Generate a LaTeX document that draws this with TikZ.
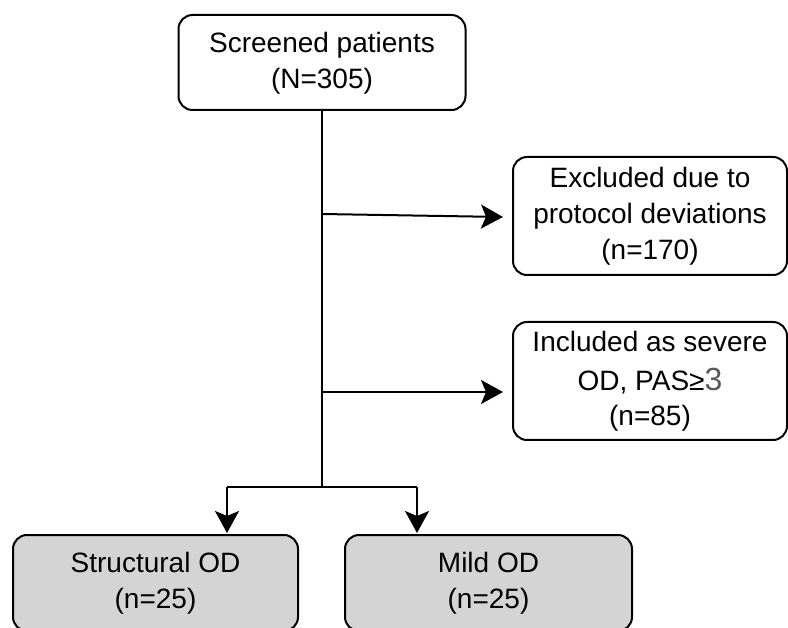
\documentclass[tikz,border=0pt]{standalone}
\usepackage{fontspec}
\setmainfont{Liberation Sans}
\usetikzlibrary{arrows.meta,calc}
\definecolor{boxgray}{HTML}{D4D4D4}
\definecolor{threegray}{HTML}{5A5A5A}
\begin{document}
\begin{tikzpicture}[x=1pt,y=-1pt,
  boxstyle/.style={draw=black,line width=2pt,rounded corners=14pt,inner sep=0pt,
    align=center,font=\fontsize{28}{36}\selectfont},
  grayboxstyle/.style={boxstyle,fill=boxgray},
  conn/.style={draw=black,line width=2pt},
  arr/.style={conn,-{Stealth[length=22pt,width=24pt,inset=5pt]}}]
\useasboundingbox (0,0) rectangle (788,628);
\clip (0,0) rectangle (788,628);
\node[boxstyle,minimum width=287pt,minimum height=95pt] (top) at (322,62.5)
  {\rule{0pt}{22pt}Screened patients\\(N=305)};
\node[boxstyle,minimum width=274pt,minimum height=118pt] (ex) at (650,216)
  {Excluded due to\\protocol deviations\\(n=170)};
\node[boxstyle,minimum width=274pt,minimum height=118pt] (inc) at (650,381)
  {Included as severe\\[3pt]OD, PAS≥{\color{threegray}\fontsize{32}{36}\selectfont 3}\\[-1pt](n=85)};
\node[grayboxstyle,minimum width=285pt,minimum height=96pt] (struct) at (155.5,583)
  {Structural OD\\(n=25)};
\node[grayboxstyle,minimum width=287pt,minimum height=96pt] (mild) at (488.5,583)
  {Mild OD\\(n=25)};
\coordinate (j) at (322,487);
\coordinate (jl) at (227,487);
\coordinate (jr) at (417,487);
\coordinate (s1) at ($(top.south |- ex.west)+(0,-2)$);
\coordinate (e1) at ($(ex.west)+(-9,1)$);
\coordinate (s2) at ($(top.south |- inc.west)+(0,11)$);
\coordinate (e2) at ($(inc.west)+(-9,11)$);
\draw[conn] (top.south) -- (j);
\draw[arr] (s1) -- (e1);
\draw[arr] (s2) -- (e2);
\draw[conn] (jl) -- (jr);
\draw[arr] (jl) -- ($(jl |- struct.north)+(0,-1)$);
\draw[arr] (jr) -- ($(jr |- mild.north)+(0,-1)$);
\end{tikzpicture}
\end{document}
